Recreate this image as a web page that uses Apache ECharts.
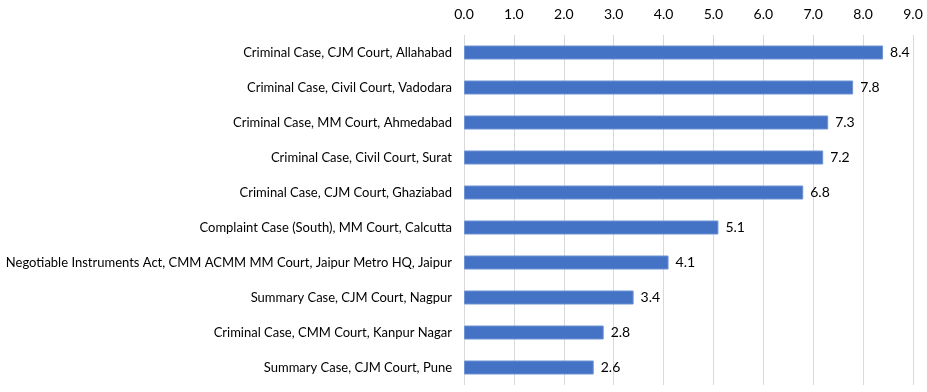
<!DOCTYPE html>
<html><head><meta charset="utf-8">
<script src="https://cdn.jsdelivr.net/npm/echarts@6/dist/echarts.min.js"></script>
<style>html,body{margin:0;padding:0;background:#fff}#c{width:927px;height:392px}</style>
</head><body><div id="c"></div>
<script>
const categories = [
  "Criminal Case, CJM Court, Allahabad",
  "Criminal Case, Civil Court, Vadodara",
  "Criminal Case, MM Court, Ahmedabad",
  "Criminal Case, Civil Court, Surat",
  "Criminal Case, CJM Court, Ghaziabad",
  "Complaint Case (South), MM Court, Calcutta",
  "Negotiable Instruments Act, CMM ACMM MM Court, Jaipur Metro HQ, Jaipur",
  "Summary Case, CJM Court, Nagpur",
  "Criminal Case, CMM Court, Kanpur Nagar",
  "Summary Case, CJM Court, Pune"
];
const values = [8.4, 7.8, 7.3, 7.2, 6.8, 5.1, 4.1, 3.4, 2.8, 2.6];
const axisMin = 0, axisMax = 9, axisStep = 1;

const FONT = "Lato, 'Liberation Sans', Arial, sans-serif";
const chart = echarts.init(document.getElementById('c'), null, {renderer:'canvas'});
chart.setOption({
  animation:false,
  grid:{left:464, right:14, top:35, bottom:7, containLabel:false, outerBoundsMode:'none'},
  xAxis:{
    type:'value', position:'top', min:axisMin, max:axisMax, interval:axisStep,
    axisLine:{show:false}, axisTick:{show:false},
    axisLabel:{formatter:v=>v.toFixed(1), color:'#000', fontSize:14, fontFamily:FONT, margin:14},
    splitLine:{show:true, lineStyle:{color:'#d9d9d9', width:1}}
  },
  yAxis:{
    type:'category', data:categories, inverse:true,
    axisLine:{show:false}, axisTick:{show:false},
    axisLabel:{color:'#000', fontSize:13, fontFamily:FONT, margin:12}
  },
  series:[{
    type:'bar', data:values, barWidth:14,
    itemStyle:{color:'#4472c4', borderColor:'#6f93d4', borderWidth:1},
    label:{show:true, position:'right', formatter:p=>p.value.toFixed(1), color:'#000', fontSize:14, fontFamily:FONT, distance:7}
  }]
});
</script></body></html>
